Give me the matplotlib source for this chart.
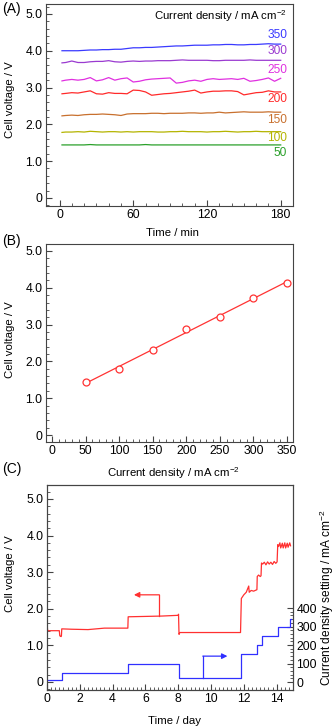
import numpy as np
import matplotlib
matplotlib.use("Agg")
import matplotlib.pyplot as plt
from matplotlib.ticker import MultipleLocator, FixedLocator

plt.rcParams["font.family"] = ["Liberation Sans", "DejaVu Sans"]
plt.rcParams["mathtext.fontset"] = "custom"
plt.rcParams["mathtext.rm"] = "Liberation Sans"

# ---------------- panel A: voltage vs time at each current density
time_min = [2, 5, 10, 15, 20, 25, 30, 35, 40, 45, 50, 55, 60, 65, 70, 75, 80, 85,
            90, 95, 100, 105, 110, 115, 120, 125, 130, 135, 140, 145, 150, 155,
            160, 165, 170, 175, 180]
v350 = [4.00, 4.00, 4.00, 4.00, 4.01, 4.02, 4.02, 4.03, 4.03, 4.04, 4.04, 4.06,
        4.08, 4.08, 4.09, 4.09, 4.10, 4.11, 4.12, 4.13, 4.13, 4.14, 4.15, 4.15,
        4.15, 4.16, 4.16, 4.17, 4.17, 4.16, 4.16, 4.17, 4.17, 4.18, 4.19, 4.18, 4.18]
v300 = [3.67, 3.68, 3.72, 3.68, 3.68, 3.70, 3.71, 3.71, 3.73, 3.70, 3.69, 3.71,
        3.72, 3.71, 3.72, 3.72, 3.73, 3.73, 3.73, 3.74, 3.75, 3.74, 3.74, 3.74,
        3.74, 3.73, 3.73, 3.74, 3.74, 3.74, 3.74, 3.75, 3.74, 3.74, 3.74, 3.74, 3.74]
v250 = [3.18, 3.20, 3.22, 3.20, 3.22, 3.27, 3.18, 3.21, 3.27, 3.20, 3.24, 3.26,
        3.15, 3.17, 3.21, 3.23, 3.24, 3.25, 3.26, 3.12, 3.14, 3.18, 3.20, 3.17,
        3.22, 3.24, 3.22, 3.23, 3.24, 3.22, 3.25, 3.17, 3.19, 3.22, 3.26, 3.17, 3.25]
v200 = [2.83, 2.84, 2.86, 2.85, 2.88, 2.91, 2.83, 2.82, 2.86, 2.84, 2.84, 2.83,
        2.93, 2.92, 2.88, 2.79, 2.81, 2.83, 2.84, 2.86, 2.88, 2.90, 2.93, 2.85,
        2.88, 2.90, 2.90, 2.91, 2.91, 2.89, 2.80, 2.83, 2.86, 2.87, 2.91, 2.88, 2.88]
v150 = [2.23, 2.24, 2.25, 2.24, 2.26, 2.27, 2.27, 2.28, 2.27, 2.26, 2.24, 2.28,
        2.29, 2.29, 2.29, 2.30, 2.30, 2.29, 2.30, 2.30, 2.30, 2.31, 2.31, 2.30,
        2.31, 2.31, 2.33, 2.31, 2.32, 2.33, 2.34, 2.33, 2.33, 2.33, 2.34, 2.33, 2.33]
v100 = [1.78, 1.79, 1.79, 1.80, 1.79, 1.81, 1.80, 1.79, 1.80, 1.80, 1.79, 1.80,
        1.79, 1.80, 1.80, 1.80, 1.79, 1.79, 1.80, 1.80, 1.81, 1.80, 1.80, 1.80,
        1.79, 1.80, 1.80, 1.81, 1.80, 1.79, 1.80, 1.80, 1.81, 1.80, 1.80, 1.80, 1.80]
v50 = [1.44, 1.44, 1.44, 1.44, 1.44, 1.45, 1.44, 1.44, 1.44, 1.44, 1.44, 1.44,
       1.44, 1.44, 1.45, 1.44, 1.44, 1.44, 1.44, 1.44, 1.44, 1.44, 1.44, 1.44,
       1.44, 1.44, 1.44, 1.44, 1.44, 1.44, 1.44, 1.44, 1.44, 1.44, 1.44, 1.44, 1.44]
series_a = [v350, v300, v250, v200, v150, v100, v50]
names_a = ["350", "300", "250", "200", "150", "100", "50"]
colors_a = ["#3a3aff", "#9a3ad0", "#e030e0", "#ff2a2a", "#c8702e", "#b4b400", "#2aa02a"]
label_y_a = [4.44, 3.99, 3.48, 2.69, 2.12, 1.63, 1.22]

# ---------------- panel B: polarisation
cd_b = [50, 100, 150, 200, 250, 300, 350]
volt_b = [1.43, 1.80, 2.31, 2.87, 3.22, 3.73, 4.14]

# ---------------- panel C: long run
red_t = [0.0, 0.04, 0.1, 0.75, 0.78, 0.86, 0.88, 0.9, 1.5, 2.5, 3.5, 4.5, 4.93,
         4.95, 6.0, 7.0, 8.0, 8.02, 8.05, 8.1, 9.0, 10.0, 11.0, 11.8, 11.85,
         12.0, 12.15, 12.3, 12.33, 12.45, 12.6, 12.8, 12.82, 12.9, 13.0, 13.05,
         13.08, 13.15, 13.25, 13.35, 13.45, 13.55, 13.65, 13.75, 13.85, 13.95,
         14.03, 14.07, 14.12, 14.2, 14.25, 14.35, 14.4, 14.5, 14.55, 14.65, 14.7,
         14.8, 14.85]
red_v = [1.58, 1.40, 1.40, 1.40, 1.26, 1.24, 1.26, 1.45, 1.44, 1.43, 1.47, 1.47,
         1.47, 1.78, 1.79, 1.80, 1.82, 1.85, 1.30, 1.35, 1.35, 1.35, 1.35, 1.35,
         2.28, 2.38, 2.45, 2.62, 2.45, 2.50, 2.48, 2.52, 2.88, 2.92, 2.88, 2.90,
         3.25, 3.22, 3.27, 3.20, 3.28, 3.22, 3.27, 3.21, 3.29, 3.24, 3.28, 3.75,
         3.70, 3.80, 3.66, 3.79, 3.66, 3.80, 3.66, 3.79, 3.68, 3.80, 3.72]
blue_t = [0.0, 0.9, 4.95, 8.05, 11.85, 12.8, 13.1, 14.1, 14.8, 14.9]
blue_cd = [10, 50, 100, 20, 150, 200, 250, 300, 340, 340]
red_arrow = ([6.85, 6.85, 5.3], [1.80, 2.38, 2.38])
blue_arrow = ([9.5, 9.5, 11.0], [20, 140, 140])

spine_col = "#444444"
fs_tick = 8.8
fs_lab = 8.2

fig = plt.figure(figsize=(3.35, 7.27), dpi=100)
H = 727.0
W = 335.0


def box(l, r, t, b):
    return [l / W, 1 - b / H, (r - l) / W, (b - t) / H]


def style(ax):
    for s in ax.spines.values():
        s.set_color(spine_col)
        s.set_linewidth(0.8)
    ax.tick_params(which="both", direction="in", colors=spine_col,
                   labelcolor="black", labelsize=fs_tick, top=False, right=False)
    ax.tick_params(which="major", length=4, width=0.8, pad=2.5)
    ax.tick_params(which="minor", length=2, width=0.6)


# A
axA = fig.add_axes(box(46, 293, 4, 206))
for vals, c in zip(series_a, colors_a):
    axA.plot(time_min, vals, color=c, lw=0.9)
for name, c, yy in zip(names_a, colors_a, label_y_a):
    axA.text(0.976, yy, name, color=c, fontsize=8.6, ha="right", va="center",
             transform=axA.get_yaxis_transform())
axA.text(0.976, 4.95, "Current density / mA cm$^{-2}$", fontsize=fs_lab,
         ha="right", va="center", transform=axA.get_yaxis_transform())
axA.set_xlim(-11, 190)
axA.set_ylim(-0.22, 5.27)
axA.xaxis.set_major_locator(FixedLocator([0, 60, 120, 180]))
axA.xaxis.set_minor_locator(FixedLocator(np.arange(0, 181, 10)))
axA.yaxis.set_major_locator(FixedLocator([0, 1, 2, 3, 4, 5]))
axA.yaxis.set_minor_locator(MultipleLocator(0.2))
axA.set_yticklabels(["0", "1.0", "2.0", "3.0", "4.0", "5.0"])
style(axA)
axA.set_xlabel("Time / min", fontsize=fs_lab)
axA.set_ylabel("Cell voltage / V", fontsize=fs_lab)
axA.xaxis.set_label_coords(0.51, -0.11)
axA.yaxis.set_label_coords(-0.125, 0.525)
fig.text(2 / W, 1 - 9 / H, "(A)", fontsize=10, va="center", ha="left")

# B
axB = fig.add_axes(box(46, 293, 244, 442))
fit = np.polyfit(cd_b, volt_b, 1)
xf = np.array([cd_b[0], cd_b[-1]])
axB.plot(xf, np.polyval(fit, xf), color="#ff3333", lw=0.9)
axB.plot(cd_b, volt_b, "o", mfc="white", mec="#ff3333", mew=0.9, ms=5)
axB.set_xlim(-9, 359)
axB.set_ylim(-0.19, 5.19)
axB.xaxis.set_major_locator(MultipleLocator(50))
axB.xaxis.set_minor_locator(MultipleLocator(10))
axB.yaxis.set_major_locator(FixedLocator([0, 1, 2, 3, 4, 5]))
axB.yaxis.set_minor_locator(MultipleLocator(0.2))
axB.set_yticklabels(["0", "1.0", "2.0", "3.0", "4.0", "5.0"])
style(axB)
axB.set_xlabel("Current density / mA cm$^{-2}$", fontsize=fs_lab)
axB.set_ylabel("Cell voltage / V", fontsize=fs_lab)
axB.xaxis.set_label_coords(0.514, -0.115)
axB.yaxis.set_label_coords(-0.125, 0.515)
fig.text(2 / W, 1 - 241 / H, "(B)", fontsize=10, va="center", ha="left")

# C
axC = fig.add_axes(box(47, 293, 485, 690))
axC.plot(red_t, red_v, color="#ff3030", lw=0.9)
axC.plot(red_arrow[0][:2], red_arrow[1][:2], color="#ff3030", lw=0.9)
axC.annotate("", xy=(red_arrow[0][2], red_arrow[1][2]),
             xytext=(red_arrow[0][1], red_arrow[1][1]),
             arrowprops=dict(arrowstyle="-|>", color="#ff3030", lw=0.9,
                             mutation_scale=8, shrinkA=0, shrinkB=0))
axC.set_xlim(0, 15)
axC.set_ylim(-0.22, 5.38)
axC.xaxis.set_major_locator(MultipleLocator(2))
axC.xaxis.set_minor_locator(MultipleLocator(0.25))
axC.yaxis.set_major_locator(FixedLocator([0, 1, 2, 3, 4, 5]))
axC.yaxis.set_minor_locator(MultipleLocator(0.2))
axC.set_yticklabels(["0", "1.0", "2.0", "3.0", "4.0", "5.0"])
style(axC)
axC.set_xlabel("Time / day", fontsize=fs_lab)
axC.set_ylabel("Cell voltage / V", fontsize=fs_lab)
axC.xaxis.set_label_coords(0.52, -0.125)
axC.yaxis.set_label_coords(-0.13, 0.566)
fig.text(2 / W, 1 - 469 / H, "(C)", fontsize=10, va="center", ha="left")

axR = axC.twinx()
axR.step(blue_t, blue_cd, where="post", color="#3030ff", lw=0.9)
axR.plot(blue_arrow[0][:2], blue_arrow[1][:2], color="#3030ff", lw=0.9)
axR.annotate("", xy=(blue_arrow[0][2], blue_arrow[1][2]),
             xytext=(blue_arrow[0][1], blue_arrow[1][1]),
             arrowprops=dict(arrowstyle="-|>", color="#3030ff", lw=0.9,
                             mutation_scale=8, shrinkA=0, shrinkB=0))
axR.set_ylim(-43, 1065)
axR.yaxis.set_major_locator(FixedLocator([0, 100, 200, 300, 400]))
axR.yaxis.set_minor_locator(FixedLocator(np.arange(0, 401, 20)))
for s in axR.spines.values():
    s.set_color(spine_col)
    s.set_linewidth(0.8)
axR.tick_params(which="both", direction="in", colors=spine_col,
                labelcolor="black", labelsize=fs_tick)
axR.tick_params(which="major", length=4, width=0.8, pad=2.5)
axR.tick_params(which="minor", length=2, width=0.6)
axR.set_ylabel("Current density setting / mA cm$^{-2}$", fontsize=8.6,
               ha="center", va="center")
axR.yaxis.set_label_coords(1.138, 0.449)

fig.savefig("out.png", dpi=100)
